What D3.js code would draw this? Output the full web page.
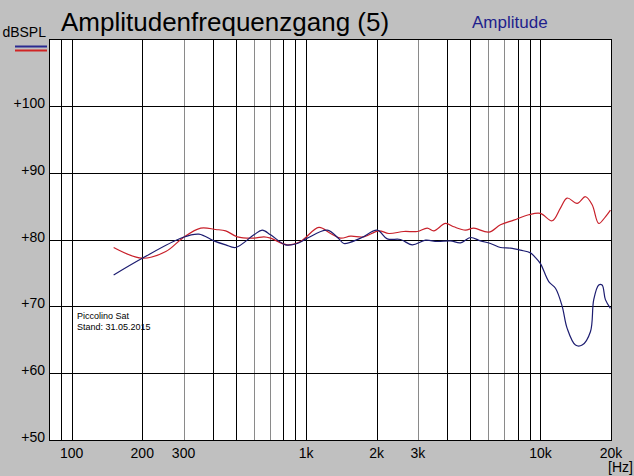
<!DOCTYPE html>
<html>
<head>
<meta charset="utf-8">
<script src="https://cdn.jsdelivr.net/npm/d3@7"></script>
<style>
  html, body { margin: 0; padding: 0; background: #c0c0c0; }
  svg { display: block; font-family: Arial, "Liberation Sans", sans-serif; }
</style>
</head>
<body>
<svg id="chart" width="634" height="476"></svg>
<script>
// Measured curves (Hz / dB SPL)
const blueFreq = [151, 200, 297, 349, 404, 454, 500, 599, 650, 706, 818, 917, 1012, 1231, 1380, 1450, 1708, 2012, 2220, 2529, 2838, 3233, 3627, 4133, 4559, 5028, 5547, 6120, 6751, 7448, 8217, 9066, 9522, 10000, 10850, 11590, 12380, 13000, 14110, 15060, 16340, 16880, 17730, 18330, 18930, 19890];
const blueDb = [74.7, 77.2, 80.3, 80.8, 79.8, 79.2, 78.8, 80.7, 81.4, 80.7, 79.2, 79.4, 80.2, 81.4, 80.1, 79.4, 80.2, 81.4, 80.1, 80.0, 79.2, 79.9, 79.7, 79.8, 79.5, 80.3, 79.8, 79.4, 78.8, 78.7, 78.4, 78.0, 77.3, 76.4, 73.7, 72.7, 70.0, 66.7, 64.2, 64.2, 66.2, 71.0, 73.2, 73.2, 71.0, 69.7];

const redFreq = [151, 200, 252, 297, 355, 411, 454, 509, 599, 661, 706, 831, 947, 1134, 1272, 1403, 1548, 1764, 2044, 2255, 2613, 2981, 3288, 3508, 3935, 4269, 4788, 5195, 6019, 6751, 7692, 8915, 10000, 11220, 12170, 13000, 14340, 15560, 16620, 17730, 18930, 19890];
const redDb = [78.8, 77.2, 78.2, 80.2, 81.7, 81.5, 81.3, 80.4, 80.2, 80.4, 80.2, 79.2, 79.7, 81.8, 80.9, 80.2, 80.5, 80.4, 81.3, 80.9, 81.2, 81.2, 81.7, 81.3, 82.4, 81.9, 81.4, 81.7, 81.1, 82.2, 82.9, 83.7, 83.9, 82.8, 84.7, 86.2, 85.4, 86.4, 85.2, 82.4, 83.4, 84.4];

const gridFreqs = [90, 100, 200, 300, 400, 500, 600, 700, 800, 900, 1000, 2000, 3000, 4000, 5000, 6000, 7000, 8000, 9000, 10000];
const greyGrid = [300, 600, 700, 3000, 6000, 7000];
const xTickValues = [100, 200, 300, 1000, 2000, 3000, 10000, 20000];
const xTickLabels = ["100", "200", "300", "1k", "2k", "3k", "10k", "20k"];
const yTickValues = [50, 60, 70, 80, 90, 100];

const svg = d3.select("#chart"),
    plotLeft = 49, plotRight = 611, plotTop = 39, plotBottom = 440;

const x = d3.scaleLog().domain([80, 20000]).range([plotLeft, plotRight]);
const y = d3.scaleLinear().domain([50, 110]).range([plotBottom, plotTop]);

// plot area
svg.append("rect")
    .attr("x", plotLeft).attr("y", plotTop)
    .attr("width", plotRight - plotLeft).attr("height", plotBottom - plotTop)
    .attr("fill", "#fff");

const grid = svg.append("g").attr("shape-rendering", "crispEdges");

grid.selectAll("line.v")
    .data(gridFreqs)
    .enter().append("line")
    .attr("class", "v")
    .attr("x1", d => Math.round(x(d)) + 0.5)
    .attr("x2", d => Math.round(x(d)) + 0.5)
    .attr("y1", plotTop).attr("y2", plotBottom)
    .attr("stroke", d => greyGrid.includes(d) ? "#8a8a8a" : "#000")
    .attr("stroke-width", 1);

grid.selectAll("line.h")
    .data(yTickValues.slice(1))
    .enter().append("line")
    .attr("class", "h")
    .attr("x1", plotLeft).attr("x2", plotRight)
    .attr("y1", d => Math.round(y(d)) + 0.5)
    .attr("y2", d => Math.round(y(d)) + 0.5)
    .attr("stroke", "#000");

svg.append("rect")
    .attr("x", plotLeft + 0.5).attr("y", plotTop + 0.5)
    .attr("width", plotRight - plotLeft).attr("height", plotBottom - plotTop)
    .attr("fill", "none").attr("stroke", "#000")
    .attr("shape-rendering", "crispEdges");

// y labels
svg.append("g").selectAll("text")
    .data(yTickValues)
    .enter().append("text")
    .attr("x", 45)
    .attr("y", d => y(d) + 2)
    .attr("text-anchor", "end")
    .attr("font-size", 14)
    .text(d => "+" + d);

// x labels
svg.append("g").selectAll("text")
    .data(xTickValues)
    .enter().append("text")
    .attr("x", d => x(d))
    .attr("y", 458)
    .attr("text-anchor", "middle")
    .attr("font-size", 14)
    .text((d, i) => xTickLabels[i]);

svg.append("text")
    .attr("x", 633).attr("y", 472)
    .attr("text-anchor", "end")
    .attr("font-size", 14)
    .text("[Hz]");

svg.append("text")
    .attr("x", 46).attr("y", 37)
    .attr("text-anchor", "end")
    .attr("font-size", 14)
    .text("dBSPL");

// legend swatches
svg.append("line")
    .attr("x1", 15).attr("x2", 47).attr("y1", 46.5).attr("y2", 46.5)
    .attr("stroke", "#2a2a90").attr("stroke-width", 2);
svg.append("line")
    .attr("x1", 15).attr("x2", 47).attr("y1", 50.5).attr("y2", 50.5)
    .attr("stroke", "#d02424").attr("stroke-width", 2);

svg.append("text")
    .attr("x", 61).attr("y", 31)
    .attr("font-size", 26)
    .text("Amplitudenfrequenzgang (5)");

svg.append("text")
    .attr("x", 472).attr("y", 28)
    .attr("font-size", 17)
    .attr("fill", "#1e1e8c")
    .text("Amplitude");

// note
svg.append("text").attr("x", 77).attr("y", 319).attr("font-size", 9).text("Piccolino Sat");
svg.append("text").attr("x", 77).attr("y", 330).attr("font-size", 9).text("Stand: 31.05.2015");

// curves
svg.append("clipPath").attr("id", "plotClip")
    .append("rect").attr("x", plotLeft).attr("y", plotTop)
    .attr("width", plotRight - plotLeft).attr("height", plotBottom - plotTop);

const line = d3.line()
    .x(d => x(d[0]))
    .y(d => y(d[1]))
    .curve(d3.curveCatmullRom);

svg.append("path")
    .datum(redFreq.map((f, i) => [f, redDb[i]]))
    .attr("clip-path", "url(#plotClip)")
    .attr("fill", "none")
    .attr("stroke", "#c8202a")
    .attr("stroke-width", 1.2)
    .attr("d", line);

svg.append("path")
    .datum(blueFreq.map((f, i) => [f, blueDb[i]]))
    .attr("clip-path", "url(#plotClip)")
    .attr("fill", "none")
    .attr("stroke", "#1c1c70")
    .attr("stroke-width", 1.2)
    .attr("d", line);
</script>
</body>
</html>
